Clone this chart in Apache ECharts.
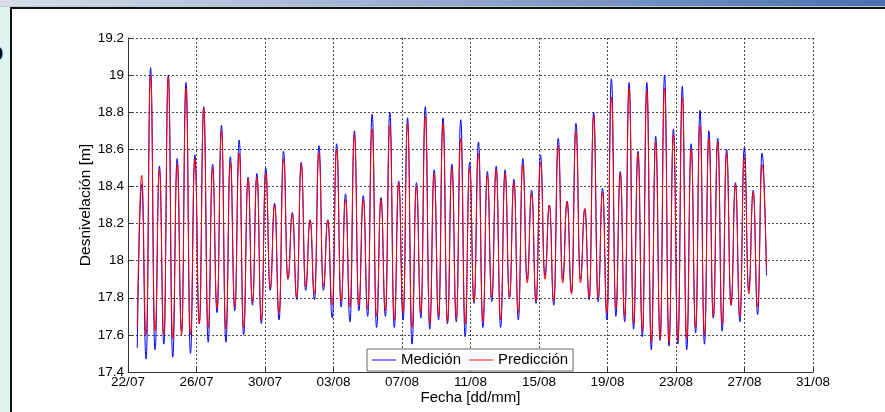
<!DOCTYPE html>
<html>
<head>
<meta charset="utf-8">
<title>Desnivelación</title>
<script src="https://cdn.jsdelivr.net/npm/echarts@6/dist/echarts.min.js"></script>
<style>
  html, body { margin: 0; padding: 0; width: 885px; height: 412px; overflow: hidden; background: #fff; }
  .frame { position: absolute; }
  #topbar   { left: 0; top: 0; width: 885px; height: 6px; background: linear-gradient(to right, #d8deeb, #8ea3cd 55%, #4a6fb2); }
  #topline  { left: 0; top: 6px; width: 885px; height: 1px; background: #bcd2cc; }
  #leftstrip{ left: 0; top: 7px; width: 10px; height: 405px; background: #def5f0; }
  #topedge  { left: 10px; top: 7px; width: 875px; height: 2px; background: #111; }
  #leftedge { left: 10px; top: 7px; width: 2px; height: 405px; background: #111; }
  #cut { position: absolute; left: -13px; top: 39px; font: bold 27px/27px "Liberation Sans", Arial, sans-serif; color: #000; }
  #chart { position: absolute; left: 0; top: 0; width: 885px; height: 412px; }
</style>
</head>
<body>
<div class="frame" id="topbar"></div>
<div class="frame" id="topline"></div>
<div class="frame" id="leftstrip"></div>
<div class="frame" id="topedge"></div>
<div class="frame" id="leftedge"></div>
<div id="cut">o</div>
<div id="chart"></div>
<script>
// Tide extremes (m), one low and one high per semidiurnal cycle, from 22/07 onwards.
const lowMedicion = [
  17.53, 17.47, 17.52, 17.55, 17.48, 17.62, 17.50, 17.66, 17.56, 17.72,
  17.56, 17.73, 17.60, 17.76, 17.66, 17.84, 17.68, 17.90, 17.79, 17.84,
  17.79, 17.84, 17.69, 17.75, 17.67, 17.73, 17.70, 17.64, 17.70, 17.64,
  17.68, 17.55, 17.69, 17.63, 17.68, 17.66, 17.67, 17.59, 17.77, 17.64,
  17.78, 17.64, 17.80, 17.68, 17.90, 17.77, 17.92, 17.76, 17.90, 17.83,
  17.90, 17.79, 17.78, 17.68, 17.70, 17.67, 17.63, 17.59, 17.52, 17.57,
  17.54, 17.55, 17.52, 17.61, 17.55, 17.69, 17.62, 17.76, 17.67, 17.84,
  17.71
];
const highMedicion = [
  18.41, 19.04, 18.51, 19.00, 18.55, 18.96, 18.57, 18.83, 18.52, 18.73,
  18.56, 18.65, 18.45, 18.47, 18.50, 18.31, 18.59, 18.26, 18.53, 18.22,
  18.62, 18.22, 18.63, 18.36, 18.70, 18.35, 18.79, 18.34, 18.80, 18.43,
  18.77, 18.42, 18.83, 18.49, 18.77, 18.52, 18.76, 18.53, 18.64, 18.48,
  18.51, 18.49, 18.44, 18.55, 18.38, 18.57, 18.30, 18.66, 18.32, 18.74,
  18.28, 18.80, 18.39, 18.98, 18.48, 18.96, 18.59, 18.96, 18.67, 19.00,
  18.71, 18.94, 18.63, 18.81, 18.70, 18.66, 18.60, 18.42, 18.61, 18.38,
  18.58
];
const lowPrediccion = [
  17.64, 17.60, 17.62, 17.60, 17.58, 17.60, 17.60, 17.66, 17.64, 17.74,
  17.63, 17.75, 17.64, 17.78, 17.68, 17.85, 17.72, 17.90, 17.80, 17.86,
  17.82, 17.86, 17.76, 17.78, 17.75, 17.76, 17.74, 17.70, 17.73, 17.68,
  17.72, 17.64, 17.72, 17.66, 17.70, 17.67, 17.69, 17.66, 17.78, 17.67,
  17.80, 17.68, 17.80, 17.72, 17.88, 17.78, 17.90, 17.78, 17.88, 17.82,
  17.88, 17.80, 17.80, 17.72, 17.74, 17.70, 17.66, 17.62, 17.56, 17.58,
  17.56, 17.57, 17.58, 17.64, 17.60, 17.70, 17.66, 17.76, 17.70, 17.82,
  17.75
];
const highPrediccion = [
  18.46, 19.00, 18.49, 18.99, 18.52, 18.93, 18.55, 18.82, 18.50, 18.70,
  18.53, 18.58, 18.44, 18.45, 18.47, 18.30, 18.55, 18.25, 18.52, 18.22,
  18.58, 18.22, 18.60, 18.33, 18.68, 18.33, 18.71, 18.33, 18.73, 18.42,
  18.74, 18.40, 18.78, 18.47, 18.74, 18.50, 18.66, 18.50, 18.58, 18.46,
  18.49, 18.47, 18.42, 18.52, 18.36, 18.53, 18.30, 18.62, 18.32, 18.70,
  18.28, 18.78, 18.37, 18.88, 18.47, 18.93, 18.58, 18.92, 18.64, 18.93,
  18.68, 18.88, 18.60, 18.73, 18.66, 18.64, 18.58, 18.41, 18.56, 18.37,
  18.52
];
// Last sample of each record (the series stops on a falling tide).
const lastMedicion = 17.92;
const lastPrediccion = 17.95;

// Sampling of the extremes: first low at 13:00 on 22/07, half a tidal cycle apart.
const startHour = 13;
const halfCycleHours = 6.21;

// X axis: hours since 22/07 00:00, labelled every four days up to 31/08.
const axisDays = 40;
const tickDays = 4;
const baseDate = Date.UTC(2012, 6, 22);

function buildSeries(lows, highs, last) {
  const pts = [];
  for (let i = 0; i < lows.length; i++) {
    pts.push([startHour + (2 * i) * halfCycleHours, lows[i]]);
    pts.push([startHour + (2 * i + 1) * halfCycleHours, highs[i]]);
  }
  pts.push([startHour + (2 * lows.length) * halfCycleHours, last]);
  return pts;
}

function ddmm(h) {
  const d = new Date(baseDate + h * 3600e3);
  return String(d.getUTCDate()).padStart(2, '0') + '/' + String(d.getUTCMonth() + 1).padStart(2, '0');
}

const FONT = '"Liberation Sans", Arial, Helvetica, sans-serif';
const dotted = { type: [2, 2], color: '#4a4a4a', width: 1 };

const chart = echarts.init(document.getElementById('chart'), null, { renderer: 'canvas' });
chart.setOption({
  animation: false,
  backgroundColor: 'transparent',
  textStyle: { fontFamily: FONT },
  grid: { left: 128, right: 72, top: 38, bottom: 40, containLabel: false, outerBoundsMode: 'none' },
  legend: {
    left: 367, top: 349,
    backgroundColor: '#fff',
    borderColor: '#666', borderWidth: 1, borderRadius: 0,
    padding: [3, 5, 3, 5],
    icon: 'rect',
    itemWidth: 24, itemHeight: 1, itemGap: 8,
    textStyle: { fontFamily: FONT, fontSize: 15, color: '#000', lineHeight: 16 },
    data: ['Medición', 'Predicción']
  },
  xAxis: {
    type: 'value',
    min: 0, max: axisDays * 24, interval: tickDays * 24,
    name: 'Fecha [dd/mm]', nameLocation: 'middle', nameGap: 18, nameMoveOverlap: false,
    nameTextStyle: { fontFamily: FONT, fontSize: 15, color: '#000', verticalAlign: 'top' },
    axisLine: { show: true, lineStyle: { color: '#333', width: 1 } },
    axisTick: { show: true, inside: true, length: 4, lineStyle: { color: '#333' } },
    axisLabel: { formatter: ddmm, fontFamily: FONT, fontSize: 13.5, color: '#000', margin: 3, showMinLabel: true, showMaxLabel: true },
    splitLine: { show: true, lineStyle: dotted }
  },
  yAxis: {
    type: 'value',
    min: 17.4, max: 19.2, interval: 0.2,
    name: 'Desnivelación [m]', nameLocation: 'middle', nameGap: 34, nameMoveOverlap: false,
    nameTextStyle: { fontFamily: FONT, fontSize: 15.5, color: '#000', verticalAlign: 'bottom' },
    axisLine: { show: true, lineStyle: { color: '#333', width: 1 } },
    axisTick: { show: true, inside: true, length: 4, lineStyle: { color: '#333' } },
    axisLabel: { fontFamily: FONT, fontSize: 13.5, color: '#000', margin: 4, showMinLabel: true, showMaxLabel: true },
    splitLine: { show: true, lineStyle: dotted }
  },
  series: [
    {
      name: 'Medición', type: 'line',
      data: buildSeries(lowMedicion, highMedicion, lastMedicion),
      smooth: 0.5, smoothMonotone: 'x',
      symbol: 'none', showSymbol: false,
      lineStyle: { color: '#0000ff', width: 1 },
      itemStyle: { color: '#0000ff' }
    },
    {
      name: 'Predicción', type: 'line',
      data: buildSeries(lowPrediccion, highPrediccion, lastPrediccion),
      smooth: 0.5, smoothMonotone: 'x',
      symbol: 'none', showSymbol: false,
      lineStyle: { color: '#ff0000', width: 1 },
      itemStyle: { color: '#ff0000' }
    }
  ]
});
</script>
</body>
</html>
